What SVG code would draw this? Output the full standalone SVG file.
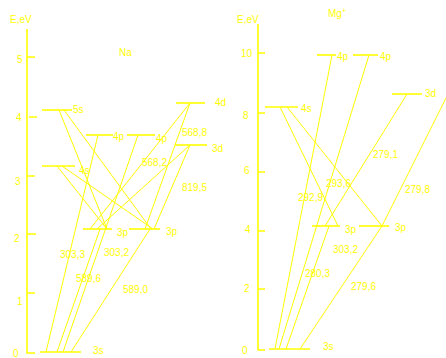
<svg xmlns="http://www.w3.org/2000/svg" width="446" height="358" viewBox="0 0 446 358">
<style>
.t{font-family:"Liberation Sans",Arial,sans-serif;font-size:10px;fill:#ffff00}
.lv{stroke:#ffff00;stroke-width:1.6;fill:none}
.ax{stroke:#ffff00;stroke-width:1.6;fill:none}
.tr{stroke:#ffff00;stroke-width:1;fill:none}
</style>
<rect width="446" height="358" fill="#ffffff"/>
<g id="axis-na">
<path class="ax" d="M27,29V353H35M27,57H35M29,117H37M27,176H35M27,234H36M27,293H35"/>
<text class="t" x="10" y="23">E,eV</text>
<text class="t" x="17" y="62.5">5</text>
<text class="t" x="16" y="120.5">4</text>
<text class="t" x="15" y="184.5">3</text>
<text class="t" x="14" y="241.5">2</text>
<text class="t" x="17" y="304.5">1</text>
<text class="t" x="13" y="357">0</text>
<text class="t" x="119" y="55.5">Na</text>
</g>
<g id="axis-mg">
<path class="ax" d="M258,24V350H265M258,53H265M258,113H265M258,172H265M258,231H265M258,289H265"/>
<text class="t" x="237" y="23">E,eV</text>
<text class="t" x="241" y="56.5">10</text>
<text class="t" x="243" y="118.5">8</text>
<text class="t" x="244" y="173.5">6</text>
<text class="t" x="245" y="232.5">4</text>
<text class="t" x="244" y="291.5">2</text>
<text class="t" x="242" y="353.5">0</text>
<text class="t" x="328" y="17">Mg<tspan font-size="7" dy="-4">+</tspan></text>
</g>
<g id="na-3s"><path class="lv" d="M40,352H81"/><text class="t" x="93" y="354">3s</text></g>
<g id="na-3p1"><path class="lv" d="M83,229H112"/><text class="t" x="117" y="236">3p</text></g>
<g id="na-3p2"><path class="lv" d="M129,229H160"/><text class="t" x="166" y="235">3p</text></g>
<g id="na-4s"><path class="lv" d="M42,166H75"/><text class="t" x="79" y="174">4s</text></g>
<g id="na-5s"><path class="lv" d="M42,110H72"/><text class="t" x="73" y="113">5s</text></g>
<g id="na-4p1"><path class="lv" d="M86,135H113"/><text class="t" x="113" y="140">4p</text></g>
<g id="na-4p2"><path class="lv" d="M127,135H155"/><text class="t" x="156" y="142">4p</text></g>
<g id="na-4d"><path class="lv" d="M176,103H205"/><text class="t" x="215" y="106">4d</text></g>
<g id="na-3d"><path class="lv" d="M175,145H207"/><text class="t" x="212" y="152">3d</text></g>
<g id="mg-3s"><path class="lv" d="M269,349H310"/><text class="t" x="323" y="350">3s</text></g>
<g id="mg-3p1"><path class="lv" d="M312,226H340"/><text class="t" x="345" y="233">3p</text></g>
<g id="mg-3p2"><path class="lv" d="M359,226H389"/><text class="t" x="395" y="231">3p</text></g>
<g id="mg-4s"><path class="lv" d="M265,107H298"/><text class="t" x="301" y="112">4s</text></g>
<g id="mg-4p1"><path class="lv" d="M317,55H336"/><text class="t" x="337" y="60">4p</text></g>
<g id="mg-4p2"><path class="lv" d="M353,55H378"/><text class="t" x="380" y="60">4p</text></g>
<g id="mg-3d"><path class="lv" d="M392,94H422"/><text class="t" x="425" y="97">3d</text></g>
<g id="connectors">
<path class="tr" d="M46,352L98,135M57,352L100,229M63,352L138,135M71,352L150,229M59,110L107,229M64,110L151,229M57,166L107,229M62,166L153,229M190,103L90,229M190,103L145,229M190,145L97,229M190,145L154,229"/>
<path class="tr" d="M275,349L332,55M279,349L369,55M286,349L329,226M300,349L382,226M280,107L338,226M287,107L382,226M407,94L325,226M452,86L382,226"/>
</g>
<g id="labels">
<text class="t" x="60" y="258">303,3</text>
<text class="t" x="104" y="255.5">303,2</text>
<text class="t" x="76" y="281.5">589,6</text>
<text class="t" x="123" y="292.5">589,0</text>
<text class="t" x="182" y="135.5">568,8</text>
<text class="t" x="142" y="165.5">568,2</text>
<text class="t" x="182" y="190.5">819,5</text>
<text class="t" x="298" y="200.5">292,9</text>
<text class="t" x="326" y="186.5">293,6</text>
<text class="t" x="333" y="252.5">303,2</text>
<text class="t" x="305" y="276.5">280,3</text>
<text class="t" x="351" y="289.5">279,6</text>
<text class="t" x="373" y="157.5">279,1</text>
<text class="t" x="405" y="192.5">279,8</text>
</g>
</svg>
